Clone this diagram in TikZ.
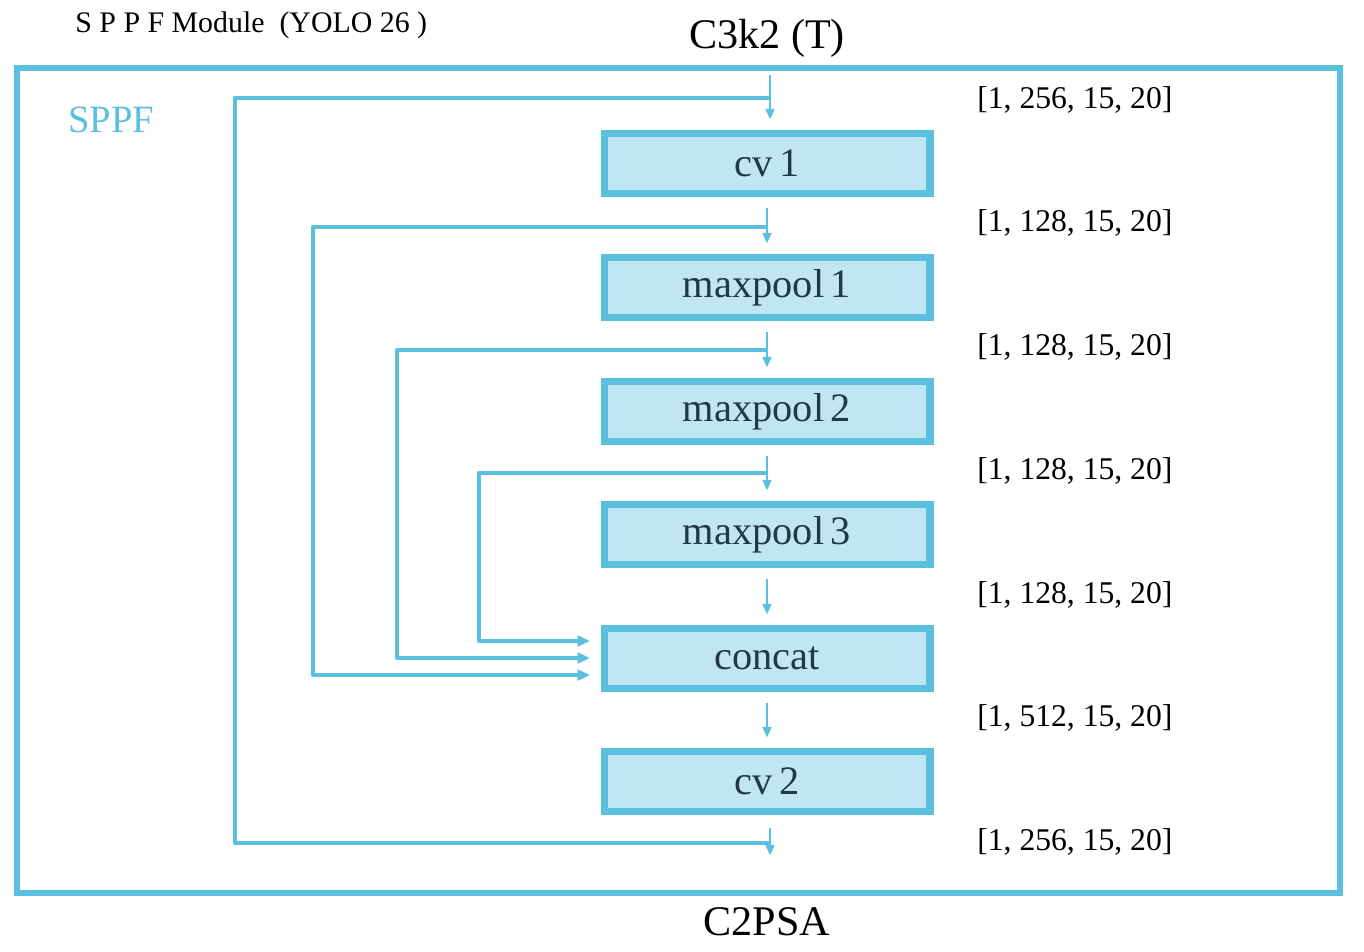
\documentclass[tikz,border=0pt]{standalone}
\usepackage{fontspec}
\setmainfont{Liberation Serif}
\usetikzlibrary{arrows.meta}
\definecolor{sb}{HTML}{5BC0DE}
\definecolor{sf}{HTML}{C0E6F4}
\definecolor{tx}{HTML}{1E3A44}
\begin{document}
\begin{tikzpicture}[x=0.02cm,y=-0.02cm,
  blk/.style={draw=sb,fill=sf,line width=4pt,minimum width=333*0.02cm-4pt,minimum height=67*0.02cm-4pt,inner sep=0pt,font=\fontsize{23}{25}\selectfont,text=tx},
  flow/.style={draw=sb,line width=1.2pt,-{Triangle[length=6pt,width=5pt]},shorten >=6pt,shorten <=6pt},
  byp/.style={draw=sb,line width=2.6pt,line join=round},
  byparr/.style={byp,-{Triangle[length=7pt,width=6pt]}},
  dim/.style={anchor=west,font=\fontsize{18}{20}\selectfont,inner sep=0pt}]
\useasboundingbox (0,0) rectangle (1364,951);
\draw[draw=sb,line width=3.5pt] (17,68) rectangle (1340,893);
\node[anchor=west,inner sep=0pt,font=\fontsize{17}{19}\selectfont] (title) at (75,25) {S P P F Module \ (YOLO 26 )};
\node[font=\fontsize{24}{26}\selectfont,inner sep=0pt] (inp) at (767,38) {C3k2 (T)};
\node[font=\fontsize{24}{26}\selectfont,inner sep=0pt] (outp) at (767,922) {C2PSA};
\node[anchor=west,inner sep=0pt,text=sb,font=\fontsize{22}{24}\selectfont] (lbl) at (68,120) {SPPF};
\node[blk] (cv1) at (767,163.5) {cv\,1};
\node[blk] (mp1) at (767,287.5) {maxpool\,1};
\node[blk] (mp2) at (767,411.5) {maxpool\,2};
\node[blk] (mp3) at (767,534.5) {maxpool\,3};
\node[blk] (cc) at (767,658.5) {concat};
\node[blk] (cv2) at (767,781.5) {cv\,2};
\foreach \y/\t/\n in {100/256/d0,223/128/d1,347/128/d2,471/128/d3,595/128/d4,718/512/d5,842/256/d6}
  \node[dim] (\n) at (977,\y) {[1, \t, 15, 20]};
% coordinates
\coordinate (i0) at (770,75); \coordinate (i1) at (770,98);
\coordinate (o0) at (770,817); \coordinate (o1) at (770,843); \coordinate (o2) at (770,866);
\coordinate (b1) at (767,227); \coordinate (b2) at (767,350); \coordinate (b3) at (767,473);
% main flow
\draw[flow,shorten <=0pt] (i0) -- (cv1.north -| i0);
\draw[flow] (cv1.south) -- (mp1.north);
\draw[flow] (mp1.south) -- (mp2.north);
\draw[flow] (mp2.south) -- (mp3.north);
\draw[flow] (mp3.south) -- (cc.north);
\draw[flow] (cc.south) -- (cv2.north);
\draw[flow] (o0) -- (o2);
% bypasses
\draw[byp] (i1) -| (235,843) -- (o1);
\draw[byparr] (b1) -| (313,675) -- (590,675);
\draw[byparr] (b2) -| (397,658) -- (590,658);
\draw[byparr] (b3) -| (479,641) -- (590,641);
\end{tikzpicture}
\end{document}
